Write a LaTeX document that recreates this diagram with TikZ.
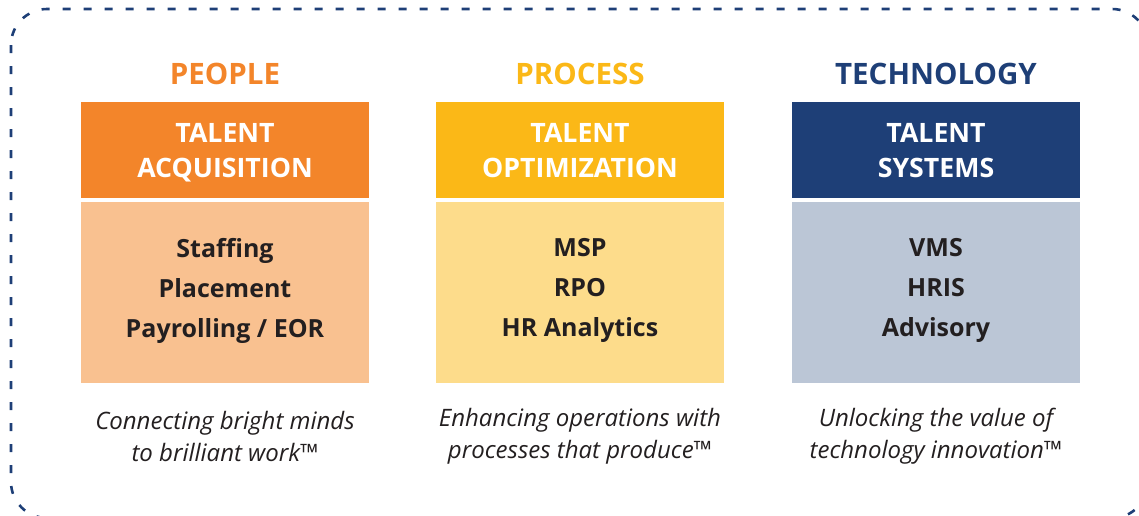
\documentclass[tikz,border=0pt]{standalone}
\usepackage{fontspec}
\setmainfont{Open Sans}
\definecolor{navy}{HTML}{1E3F77}
\definecolor{orng}{HTML}{F3852A}
\definecolor{lorng}{HTML}{F9C190}
\definecolor{yllw}{HTML}{FBB817}
\definecolor{lyllw}{HTML}{FDDC8B}
\definecolor{lblue}{HTML}{BBC6D6}
\definecolor{ink}{HTML}{231F20}
\tikzset{
  coltitle/.style={font=\bfseries\fontsize{29.5}{32}\selectfont, anchor=center, inner sep=0pt},
  hdrbox/.style={minimum width=288pt, minimum height=96pt, inner sep=0pt},
  hdrtext/.style={align=center, inner sep=0pt, yshift=-5.25pt,
    text=white, font=\bfseries\fontsize{26.7}{35}\selectfont},
  bodybox/.style={minimum width=288pt, minimum height=181pt, inner sep=0pt},
  bodytext/.style={align=center, inner sep=0pt, yshift=2pt,
    text=ink, font=\bfseries\fontsize{25}{40}\selectfont},
  tagline/.style={align=center, text=ink, inner sep=0pt, font=\itshape\fontsize{24}{32}\selectfont},
  frame/.style={navy, line width=2.6pt, dash pattern=on 8pt off 13pt, rounded corners=36pt}
}
\begin{document}
\begin{tikzpicture}[x=1pt,y=-1pt]
\useasboundingbox (0,0) rectangle (1139,515);
\clip (0,0) rectangle (1139,515);
\draw[frame] (11,9) rectangle (1148,518);

% People
\node[coltitle, text=orng] (t1) at (225,74) {PEOPLE};
\node[hdrbox, fill=orng, label={[hdrtext]center:TALENT\\ACQUISITION\strut}] (h1) at (225,150) {};
\node[bodybox, fill=lorng, label={[bodytext]center:Staffing\\Placement\\Payrolling / EOR}] (b1) at (225,292.5) {};
\node[tagline] (g1) at (225,436) {Connecting bright minds\\to brilliant work™};

% Process
\node[coltitle, text=yllw] (t2) at (580,74) {PROCESS};
\node[hdrbox, fill=yllw, label={[hdrtext]center:TALENT\\OPTIMIZATION\strut}] (h2) at (580,150) {};
\node[bodybox, fill=lyllw, label={[bodytext]center:MSP\\RPO\\HR Analytics}] (b2) at (580,292.5) {};
\node[tagline] (g2) at (580,436) {Enhancing operations with\\processes that produce™};

% Technology
\node[coltitle, text=navy] (t3) at (936,74) {TECHNOLOGY};
\node[hdrbox, fill=navy, label={[hdrtext]center:TALENT\\SYSTEMS\strut}] (h3) at (936,150) {};
\node[bodybox, fill=lblue, label={[bodytext]center:VMS\\HRIS\\Advisory}] (b3) at (936,292.5) {};
\node[tagline] (g3) at (936,436) {Unlocking the value of\\technology innovation™};
\end{tikzpicture}
\end{document}
